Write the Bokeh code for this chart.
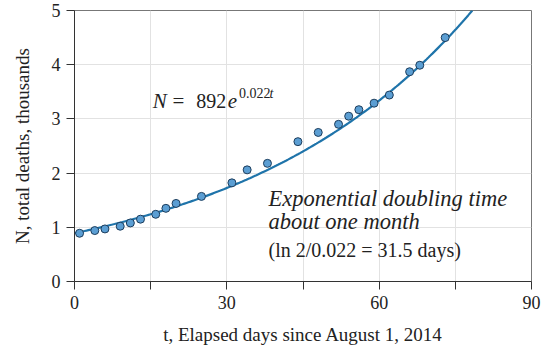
import numpy as np
from bokeh.plotting import figure
from bokeh.models import Label, FixedTicker, Range1d
from bokeh.embed import file_html
from bokeh.resources import INLINE

# data
days = [1, 4, 6, 9, 11, 13, 16, 18, 20, 25, 31, 34, 38, 44, 48, 52, 54, 56, 59, 62, 66, 68, 73]
deaths = [0.89, 0.94, 0.97, 1.02, 1.08, 1.15, 1.24, 1.35, 1.44, 1.57, 1.82, 2.06, 2.18,
          2.58, 2.75, 2.90, 3.05, 3.17, 3.29, 3.44, 3.87, 3.99, 4.50]
fit_a = 0.892
fit_k = 0.022
x_ticks = [0, 15, 30, 45, 60, 75, 90]
x_tick_labels = {0: "0", 15: "", 30: "30", 45: "", 60: "60", 75: "", 90: "90"}
y_ticks = [0, 1, 2, 3, 4, 5]

SERIF = "Liberation Serif"
TXT = "#222222"

p = figure(width=550, height=353, output_backend="svg", toolbar_location=None,
           x_range=Range1d(0, 90), y_range=Range1d(0, 5),
           min_border_left=74, min_border_right=19, min_border_top=10, min_border_bottom=72)
p.background_fill_color = "white"
p.border_fill_color = "white"
p.outline_line_color = "#777777"
p.outline_line_width = 1

for ax in (p.xaxis, p.yaxis):
    ax.axis_line_color = "#333333"
    ax.major_tick_line_color = "#333333"
    ax.major_tick_in = 0
    ax.major_tick_out = 8
    ax.minor_tick_line_color = None
    ax.major_label_text_font = SERIF
    ax.major_label_text_font_size = "18px"
    ax.major_label_text_color = TXT
    ax.axis_label_text_font = SERIF
    ax.axis_label_text_font_size = "19px"
    ax.axis_label_text_font_style = "normal"
    ax.axis_label_text_color = TXT

p.xaxis.ticker = FixedTicker(ticks=x_ticks)
p.xaxis.major_label_overrides = x_tick_labels
p.yaxis.ticker = FixedTicker(ticks=y_ticks)
p.xaxis.major_label_standoff = 6
p.yaxis.major_label_standoff = 6
p.xaxis.axis_label = "t, Elapsed days since August 1, 2014"
p.yaxis.axis_label = "N, total deaths, thousands"
p.xaxis.axis_label_standoff = 12
p.yaxis.axis_label_standoff = 16

p.xgrid.ticker = FixedTicker(ticks=x_ticks)
p.ygrid.ticker = FixedTicker(ticks=y_ticks)
p.grid.grid_line_color = "#e2e2e2"
p.grid.grid_line_width = 1

# fitted curve
t_end = np.log(5 / fit_a) / fit_k
tt = np.linspace(0, t_end, 200)
p.line(tt, fit_a * np.exp(fit_k * tt), line_color="#1f74aa", line_width=2.2)

# observations
p.scatter(days, deaths, size=8, fill_color="#5b9ed3", line_color="#1d3d5c", line_width=1)

def lab(x, y, text, size="18px", style="normal", **kw):
    p.add_layout(Label(x=x, y=y, text=text, text_font=SERIF, text_font_size=size,
                       text_font_style=style, text_color=TXT, text_baseline="alphabetic", **kw))

# equation N = 892 e^{0.022t}
lab(15.4, 3.33, "N", "21px", "italic")
lab(19.3, 3.33, "=", "21px")
lab(24.0, 3.33, "892", "20px")
lab(30.2, 3.33, "e", "21px", "italic")
lab(32.4, 3.475, "0.022", "14px")
lab(38.4, 3.475, "t", "14px", "italic")

# doubling-time annotation
lab(38.2, 1.534, "Exponential doubling time", "22.5px", "italic")
lab(38.2, 1.115, "about one month", "22.5px", "italic")
lab(38.2, 0.573, "(ln 2/0.022 = 31.5 days)", "20px")

open("out.html", "w").write(file_html(p, INLINE))
